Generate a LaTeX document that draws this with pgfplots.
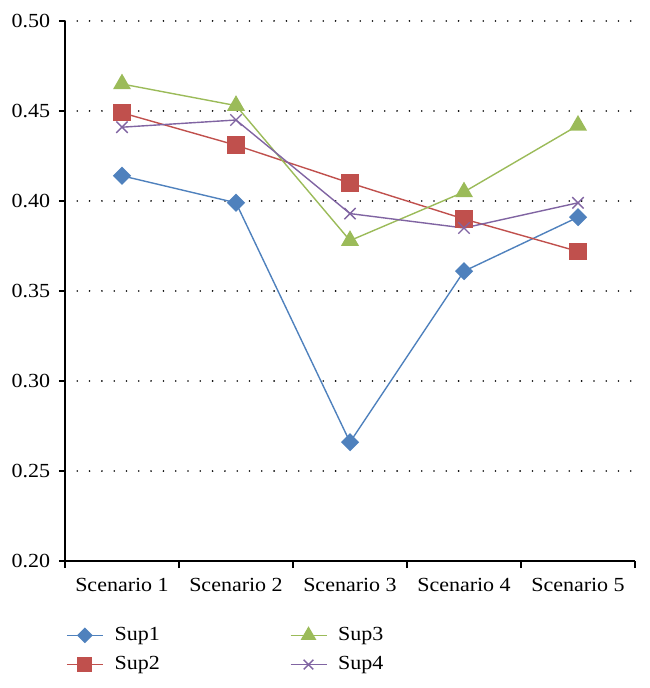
\documentclass[border=0pt]{standalone}
\usepackage{fontspec}
\setmainfont{Liberation Serif}[FakeStretch=1.1]
\usepackage{pgfplots}
\pgfplotsset{compat=1.18}
\definecolor{cA}{HTML}{4F81BD}
\definecolor{cB}{HTML}{C0504D}
\definecolor{cC}{HTML}{9BBB59}
\definecolor{cD}{HTML}{8064A2}
\begin{document}
\fontsize{20bp}{23bp}\selectfont
\begin{tikzpicture}
\path[use as bounding box] (-65bp,-127bp) rectangle (585bp,561bp);
\begin{axis}[
  at={(0,0)}, anchor=south west,
  scale only axis, width=570bp, height=540bp,
  xmin=0.5, xmax=5.5, ymin=0.2, ymax=0.5,
  axis x line*=bottom, axis y line*=left,
  axis line style={-},
  x axis line style={line width=2bp, black},
  y axis line style={line width=1.2bp, black},
  tick align=outside,
  major tick length=6bp,
  xtick={1,2,3,4,5},
  xticklabels={Scenario 1,Scenario 2,Scenario 3,Scenario 4,Scenario 5},
  xtick style={draw=none},
  xticklabel style={yshift=-4bp},
  extra x ticks={0.5,1.5,2.5,3.5,4.5,5.5},
  extra x tick labels={},
  extra x tick style={xtick style={draw=black, line width=1.2bp}, major tick length=7bp},
  ytick={0.2,0.25,0.3,0.35,0.4,0.45,0.5},
  ytick style={draw=black, line width=1.2bp},
  yticklabel style={xshift=-2bp, /pgf/number format/.cd, fixed, fixed zerofill, precision=2},
  /pgf/number format/assume math mode=true,
  ticklabel style={font=\fontsize{20bp}{23bp}\selectfont, black},
  ymajorgrids,
  major grid style={black, line width=1.8bp, line cap=round, dash pattern=on 0bp off 12.3bp},
  every axis plot/.append style={line width=1.4bp},
  transpose legend,
  legend columns=2,
  legend image code/.code={\draw[mark repeat=2,mark phase=2,#1,every mark/.append style={scale=0.85}] plot coordinates {(0bp,0bp) (18bp,0bp) (36bp,0bp)};},
  legend style={at={(0,0)}, anchor=north west, xshift=1bp, yshift=-64bp,
    draw=none, fill=none, inner sep=0pt, row sep=9bp,
    font=\fontsize{20bp}{23bp}\selectfont,
    /tikz/every odd column/.append style={column sep=9bp},
    /tikz/every even column/.append style={column sep=128bp}},
  legend cell align=left,
]
\addplot[cA, mark=square*, mark size=5.7bp, mark options={rotate=45, solid, fill=cA}]
  coordinates {(1,0.414) (2,0.399) (3,0.266) (4,0.361) (5,0.391)};
\addlegendentry{Sup1}
\addplot[cB, mark=square*, mark size=8bp, mark options={solid, fill=cB}]
  coordinates {(1,0.449) (2,0.431) (3,0.410) (4,0.390) (5,0.372)};
\addlegendentry{Sup2}
\addplot[cC, mark=triangle*, mark size=9bp, mark options={solid, fill=cC}]
  coordinates {(1,0.465) (2,0.453) (3,0.378) (4,0.405) (5,0.442)};
\addlegendentry{Sup3}
\addplot[cD, mark=x, mark size=8bp, mark options={solid}]
  coordinates {(1,0.441) (2,0.445) (3,0.393) (4,0.385) (5,0.399)};
\addlegendentry{Sup4}
\end{axis}
\end{tikzpicture}
\end{document}
